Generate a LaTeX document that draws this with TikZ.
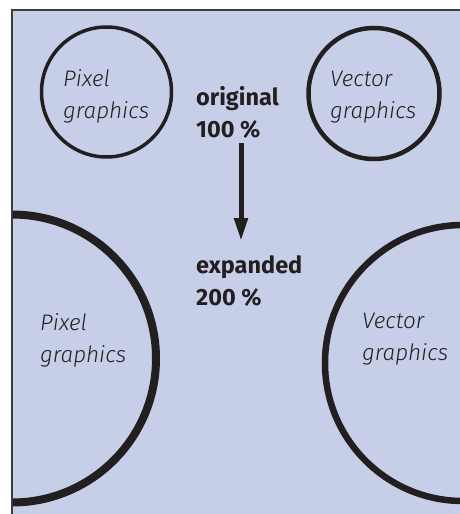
\documentclass[tikz,border=0pt]{standalone}
\usepackage{fontspec}
\usetikzlibrary{arrows.meta}
\newfontfamily\lightit{Fira Sans}[UprightFont={* Light Italic}]
\newfontfamily\boldsans{Fira Sans}[UprightFont={* Bold}]
\definecolor{panel}{RGB}{199,207,232}
\definecolor{ink}{RGB}{35,31,32}
\definecolor{frame}{RGB}{60,60,60}
\tikzset{
  x=1pt, y=-1pt,
  ring/.style={circle, draw=ink, inner sep=0pt, outer sep=0pt},
  lbl/.style={anchor=base west, inner sep=0pt, text=ink, font=\lightit\fontsize{22.5}{22.5}\selectfont},
  blbl/.style={anchor=base west, inner sep=0pt, text=ink, font=\boldsans\fontsize{23.5}{23.5}\selectfont},
  bigarrow/.style={draw=ink, line width=5pt, -{Triangle[length=23pt,width=13pt]}}
}
\begin{document}
\begin{tikzpicture}
\useasboundingbox (0,0) rectangle (460,514);
\fill[white] (0,0) rectangle (460,514);
\fill[panel] (12,10) rectangle (460,514);
\draw[frame, line width=2pt] (12,514) -- (12,10) -- (460,10);
% top circles
\node[ring, line width=3.5pt, minimum size=130pt] (pxs) at (106.5,92) {};
\node[ring, line width=4.5pt, minimum size=131pt] (vcs) at (374,93.5) {};
% big circles
\begin{scope}
\clip (13,11) rectangle (460,514);
\node[ring, line width=8pt, minimum size=288pt] (pxl) at (12,358.5) {};
\node[ring, line width=6.5pt, minimum size=276pt] (vcl) at (463,363) {};
\end{scope}
% labels in circles
\node[lbl] (pxs1) at (63,86) {Pixel};
\node[lbl] (pxs2) at (63,118) {graphics};
\node[lbl] (vcs1) at (330,86) {Vector};
\node[lbl] (vcs2) at (330,118) {graphics};
\node[lbl] (pxl1) at (40,330) {Pixel};
\node[lbl] (pxl2) at (40,362) {graphics};
\node[lbl] (vcl1) at (362,328) {Vector};
\node[lbl] (vcl2) at (362,360) {graphics};
% middle labels
\node[blbl] (or1) at (196,105) {original};
\node[blbl] (or2) at (196,137) {100 \%};
\node[blbl] (ex1) at (196,273) {expanded};
\node[blbl] (ex2) at (196,305) {200 \%};
\coordinate (astart) at (241,143);
\coordinate (aend) at (241,241);
\draw[bigarrow] (astart) -- (aend);
\end{tikzpicture}
\end{document}
